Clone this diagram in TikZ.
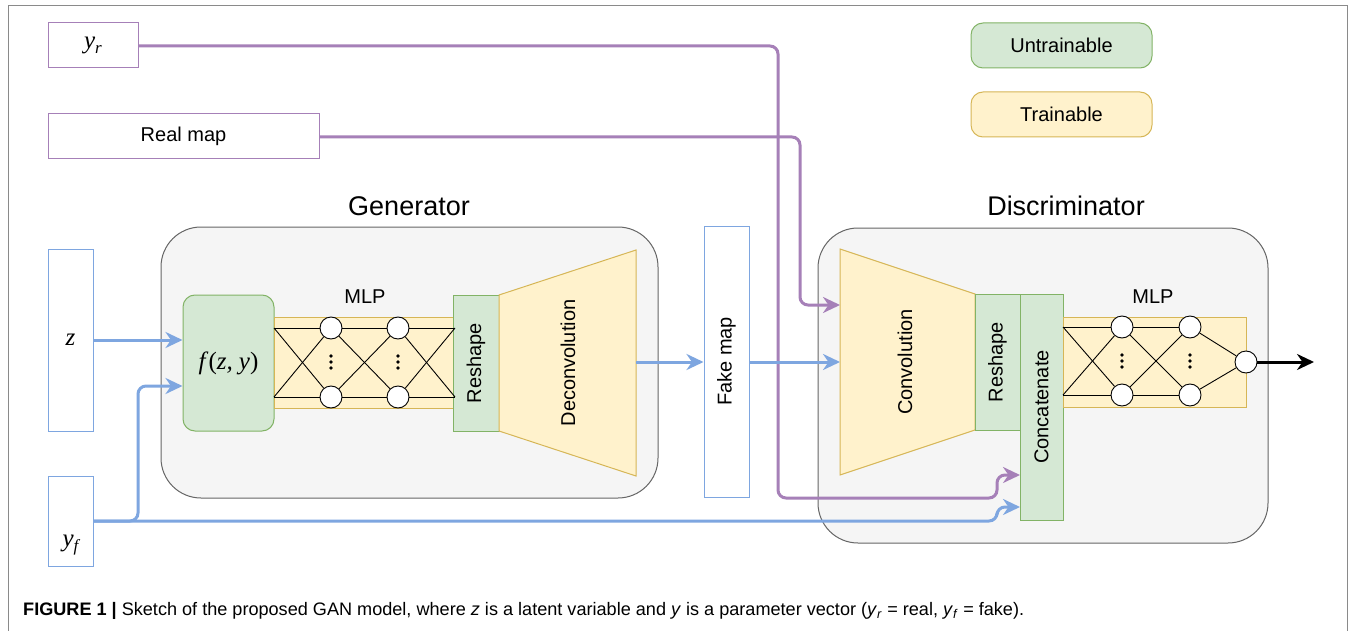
\documentclass[tikz,border=0pt]{standalone}
\usepackage{fontspec}
\setmainfont{Liberation Sans}
\newfontfamily\lblserif{Liberation Serif}
\usetikzlibrary{arrows.meta}
\definecolor{cblue}{HTML}{7EA6E0}
\definecolor{cpurple}{HTML}{A680B8}
\definecolor{gfill}{HTML}{D5E8D4}
\definecolor{gline}{HTML}{82B366}
\definecolor{yfill}{HTML}{FFF2CC}
\definecolor{yline}{HTML}{D6B656}
\definecolor{cfill}{HTML}{F5F5F5}
\definecolor{cline}{HTML}{666666}
\definecolor{frameline}{HTML}{8A8A8A}
\newcommand{\lsub}[1]{\raisebox{-0.22em}{\fontsize{17}{20}\selectfont #1}}
\begin{document}
\begin{tikzpicture}[x=1pt,y=-1pt,
  txt/.style={font=\fontsize{20}{24}\selectfont},
  inbox/.style={draw, line width=1pt, fill=white, inner sep=0pt, txt},
  bluebox/.style={inbox, draw=cblue},
  purplebox/.style={inbox, draw=cpurple},
  greenbox/.style={draw=gline, fill=gfill, line width=1pt, inner sep=0pt, txt},
  yellowbox/.style={draw=yline, fill=yfill, line width=1pt, inner sep=0pt, txt},
  container/.style={draw=cline, fill=cfill, line width=1pt, rounded corners=40pt},
  neuron/.style={circle, draw=black, fill=white, line width=0.9pt, minimum size=22pt, inner sep=0pt},
  nnline/.style={line width=0.9pt, black},
  tipA/.style={-{Stealth[length=17pt,width=16pt,inset=5.5pt]}},
  bluearr/.style={draw=cblue, line width=3pt, rounded corners=8pt, tipA},
  purplearr/.style={draw=cpurple, line width=3pt, rounded corners=8pt, tipA},
  title/.style={font=\fontsize{27}{32}\selectfont},
  mathlbl/.style={font=\lblserif\itshape\fontsize{25}{28}\selectfont}
]
\useasboundingbox (0,0) rectangle (1356,631);
\fill[white] (0,0) rectangle (1356,631);
\draw[frameline, line width=1pt] (8,640) -- (8,6) -- (1347,6) -- (1347,640);

% containers
\draw[container] (161,227) rectangle (658,498);
\draw[container] (818,228) rectangle (1268,543);
\node[title] (gtitle) at (409,206) {Generator};
\node[title] (dtitle) at (1066,206) {Discriminator};

% legend
\node[greenbox, rounded corners=12pt, minimum width=181pt, minimum height=45pt] (untrain) at (1061.5,45.5) {Untrainable};
\node[yellowbox, rounded corners=12pt, minimum width=181pt, minimum height=45pt] (train) at (1061.5,114.5) {Trainable};

% inputs
\node[purplebox, minimum width=90pt, minimum height=45pt, mathlbl] (yr) at (93,45.5) {y\lsub{r}};
\node[purplebox, minimum width=271pt, minimum height=45pt] (real) at (183.5,136.5) {Real map};
\node[bluebox, minimum width=45pt, minimum height=182pt, mathlbl] (z) at (70.5,340) {z};
\node[bluebox, minimum width=45pt, minimum height=90pt] (yf) at (70.5,521) {};
\node[mathlbl] (yflbl) at (70.5,545) {y\lsub{f}};
\node[bluebox, minimum width=45pt, minimum height=271pt] (fake) at (726.5,361.5) {};
\node[txt, rotate=90] (fakelbl) at (fake.center) {Fake map};

% generator
\node[greenbox, rounded corners=12pt, minimum width=91pt, minimum height=136pt, mathlbl] (fzy) at (228.5,363) {f\hspace{3pt}{\upshape(}z,\hspace{6pt}y{\upshape)}};
\node[yellowbox, minimum width=181pt, minimum height=91pt] (gmlp) at (364.5,362.5) {};
\node[txt] (gmlplbl) at (365,297) {MLP};
\node[greenbox, minimum width=46pt, minimum height=136pt] (gresh) at (476,363) {};
\node[txt, rotate=90] (greshlbl) at (gresh.center) {Reshape};
\draw[yline, fill=yfill, line width=1pt] (499,295) -- (636,250) -- (636,476) -- (499,431) -- cycle;
\node[txt, rotate=90] (deconv) at (568,363) {Deconvolution};
\coordinate (deconvout) at (636,362);

\coordinate (gl1) at (274,328);
\coordinate (gl2) at (274,397);
\coordinate (gr1) at (455,328);
\coordinate (gr2) at (455,397);
\node[neuron] (ga1) at (331,328) {};
\node[neuron] (ga2) at (331,397) {};
\node[neuron] (gb1) at (398,328) {};
\node[neuron] (gb2) at (398,397) {};
\foreach \s in {gl1,gl2}{\foreach \t in {ga1,ga2}{\draw[nnline] (\s) -- (\t);}}
\foreach \s in {ga1,ga2}{\foreach \t in {gb1,gb2}{\draw[nnline] (\s) -- (\t);}}
\foreach \s in {gb1,gb2}{\foreach \t in {gr1,gr2}{\draw[nnline] (\s) -- (\t);}}
\foreach \x in {331,398}{\foreach \y in {356,362,368}{\fill (\x,\y) circle (1.8pt);}}

% discriminator
\draw[yline, fill=yfill, line width=1pt] (840,249) -- (975,294) -- (975,430) -- (840,475) -- cycle;
\node[txt, rotate=90] (conv) at (905,362) {Convolution};
\coordinate (convin1) at (840,305);
\coordinate (convin2) at (840,362);
\node[greenbox, minimum width=45pt, minimum height=136pt] (dresh) at (997.5,362) {};
\node[txt, rotate=90] (dreshlbl) at (dresh.center) {Reshape};
\node[greenbox, minimum width=43pt, minimum height=226pt] (concat) at (1041.5,407) {};
\node[txt, rotate=90] (concatlbl) at (concat.center) {Concatenate};
\node[yellowbox, minimum width=183pt, minimum height=90pt] (dmlp) at (1154.5,362) {};
\node[txt] (dmlplbl) at (1153,297) {MLP};
\coordinate (dl1) at (1063,327);
\coordinate (dl2) at (1063,395);
\node[neuron] (da1) at (1122,327) {};
\node[neuron] (da2) at (1122,395) {};
\node[neuron] (db1) at (1190,327) {};
\node[neuron] (db2) at (1190,395) {};
\node[neuron] (dout) at (1246,362) {};
\foreach \s in {dl1,dl2}{\foreach \t in {da1,da2}{\draw[nnline] (\s) -- (\t);}}
\foreach \s in {da1,da2}{\foreach \t in {db1,db2}{\draw[nnline] (\s) -- (\t);}}
\foreach \s in {db1,db2}{\draw[nnline] (\s) -- (dout);}
\foreach \x in {1122,1190}{\foreach \y in {355,361,367}{\fill (\x,\y) circle (1.8pt);}}
\coordinate (outend) at (1314,362);
\draw[line width=3pt, black, tipA] (dout.east) -- (outend);

% connectors
\coordinate (ca1) at (778,46);
\coordinate (ca2) at (778,498);
\coordinate (ca3) at (997,498);
\coordinate (ca4) at (997,475);
\coordinate (cat1) at (1020,475);
\draw[purplearr] (yr.east |- ca1) -- (ca1) -- (ca2) -- (ca3) -- (ca4) -- (cat1);

\coordinate (cb1) at (800,137);
\coordinate (cb2) at (800,305);
\draw[purplearr] (real.east |- cb1) -- (cb1) -- (cb2) -- (convin1);

\draw[bluearr] (z.east |- 0,340) -- (fzy.west |- 0,340);

\coordinate (cc1) at (138,521);
\coordinate (cc2) at (138,386);
\draw[bluearr] (yf.east) -- (cc1) -- (cc2) -- (fzy.west |- cc2);

\coordinate (cd1) at (997,521);
\coordinate (cd2) at (997,507);
\coordinate (cat2) at (1020,507);
\draw[bluearr] (yf.east) -- (cd1) -- (cd2) -- (cat2);

\draw[bluearr] (deconvout) -- (fake.west |- deconvout);
\draw[bluearr] (fake.east |- convin2) -- (convin2);

% caption
\node[anchor=west, inner sep=0pt, font=\fontsize{18.1}{22}\selectfont] (cap) at (23,611)
 {\textbf{FIGURE 1 |} Sketch of the proposed GAN model, where \textit{z} is a latent variable and \textit{y} is a parameter vector (\textit{y}\textsubscript{\textit{r}} = real, \textit{y}\textsubscript{\textit{f}} = fake).};
\end{tikzpicture}
\end{document}
